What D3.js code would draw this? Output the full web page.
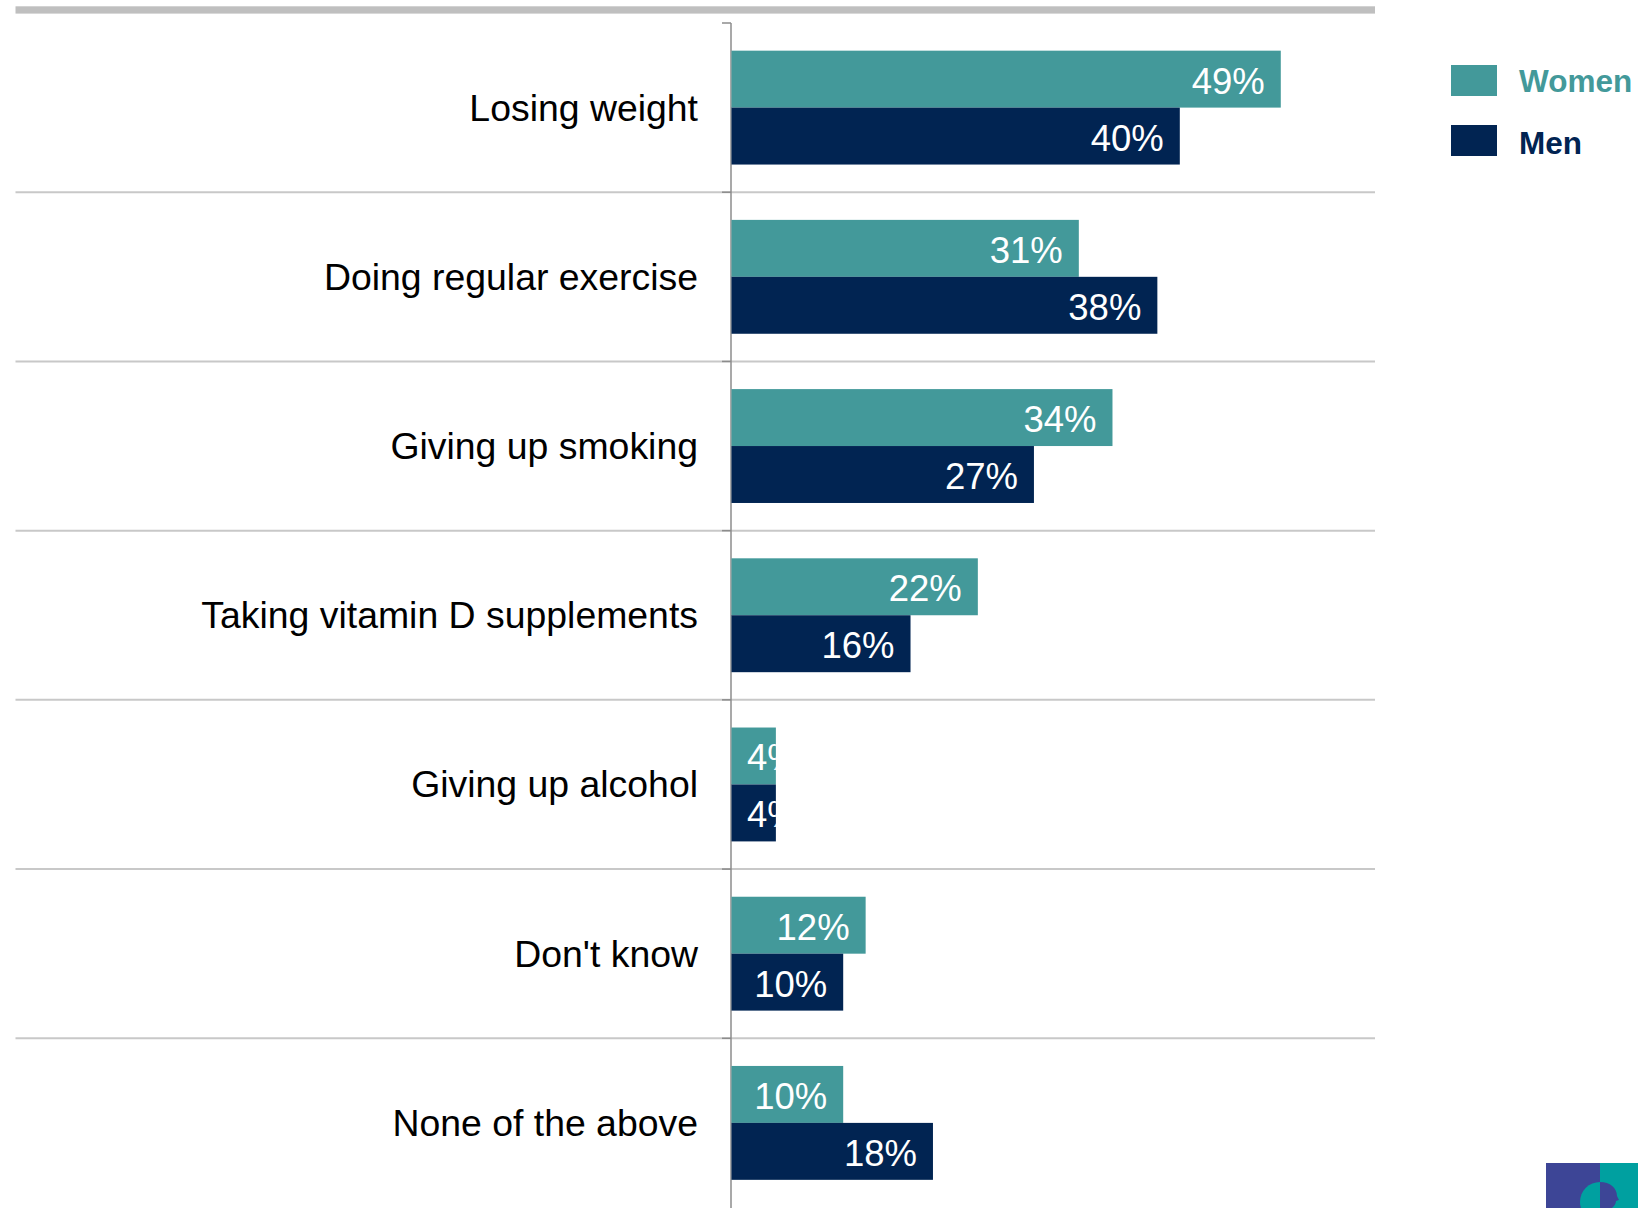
<!DOCTYPE html>
<html>
<head>
<meta charset="utf-8">
<script src="https://cdn.jsdelivr.net/npm/d3@7"></script>
<style>
  html, body { margin: 0; padding: 0; background: #ffffff; }
  svg { display: block; font-family: "Liberation Sans", Arial, sans-serif; }
</style>
</head>
<body>
<svg id="chart" width="1638" height="1208"></svg>
<script>
// Survey answers, percentage of respondents by sex
const categories = [
  "Losing weight",
  "Doing regular exercise",
  "Giving up smoking",
  "Taking vitamin D supplements",
  "Giving up alcohol",
  "Don't know",
  "None of the above"
];
const seriesNames = ["Women", "Men"];
const women = [49, 31, 34, 22, 4, 12, 10];
const men   = [40, 38, 27, 16, 4, 10, 18];

const colors = { Women: "#43999a", Men: "#012452" };

const svg = d3.select("#chart");
const W = 1638, H = 1208;

const axisX = 731;
const x = d3.scaleLinear().domain([0, 60]).range([axisX, axisX + 60 * 11.22]);
const y = d3.scaleBand().domain(categories).range([23, 1207.5])
  .paddingInner(0.327).paddingOuter(0.1635);
const ySub = d3.scaleBand().domain(seriesNames).range([0, y.bandwidth()]);
const step = y.step();
const bandTop = c => y(c) - y.paddingOuter() * step;

// thick top rule
svg.append("rect")
  .attr("x", 15.5).attr("y", 6.3).attr("width", 1375 - 15.5).attr("height", 7.3)
  .attr("fill", "#bfbfbf");

// separators between categories
const boundaries = categories.slice(1).map(c => bandTop(c));
svg.append("g").selectAll("line").data(boundaries).join("line")
  .attr("x1", 15.5).attr("x2", 1375)
  .attr("y1", d => d).attr("y2", d => d)
  .attr("stroke", "#c8c8c8").attr("stroke-width", 2);

// category axis with ticks at band edges
const edges = [bandTop(categories[0])].concat(boundaries);
const axisG = svg.append("g").attr("transform", `translate(${axisX},0)`);
axisG.append("line")
  .attr("x1", 0).attr("x2", 0).attr("y1", edges[0]).attr("y2", H)
  .attr("stroke", "#8c8c8c").attr("stroke-width", 1.5);
axisG.selectAll("line.tick").data(edges).join("line")
  .attr("class", "tick")
  .attr("x1", -9).attr("x2", 0)
  .attr("y1", d => d).attr("y2", d => d)
  .attr("stroke", "#8c8c8c").attr("stroke-width", 1.5);

// category labels
svg.append("g").selectAll("text").data(categories).join("text")
  .attr("x", 698)
  .attr("y", c => y(c) + y.bandwidth() / 2)
  .attr("text-anchor", "end")
  .attr("dominant-baseline", "central")
  .attr("font-size", 37.4)
  .attr("fill", "#000")
  .text(c => c);

// bars
const rows = [];
categories.forEach((c, i) => {
  rows.push({ cat: c, series: "Women", value: women[i], id: i * 2 });
  rows.push({ cat: c, series: "Men", value: men[i], id: i * 2 + 1 });
});

const defs = svg.append("defs");
defs.selectAll("clipPath").data(rows).join("clipPath")
  .attr("id", d => "clip" + d.id)
  .append("rect")
  .attr("x", x(0)).attr("y", d => y(d.cat) + ySub(d.series))
  .attr("width", d => x(d.value) - x(0)).attr("height", ySub.bandwidth());

const barG = svg.append("g");
barG.selectAll("rect").data(rows).join("rect")
  .attr("x", x(0) + 0.5)
  .attr("y", d => y(d.cat) + ySub(d.series))
  .attr("width", d => x(d.value) - x(0) - 0.5)
  .attr("height", ySub.bandwidth())
  .attr("fill", d => colors[d.series]);

// value labels, right-aligned inside the bar, clipped where the bar is short
const fmt = v => d3.format(".0f")(v) + "%";
const labelG = svg.append("g");
labelG.selectAll("text").data(rows).join("text")
  .attr("clip-path", d => `url(#clip${d.id})`)
  .attr("y", d => y(d.cat) + ySub(d.series) + ySub.bandwidth() / 2 + 2)
  .attr("dominant-baseline", "central")
  .attr("font-size", 36.5)
  .attr("fill", "#ffffff")
  .text(d => fmt(d.value))
  .each(function (d) {
    const w = this.getComputedTextLength();
    const xs = Math.max(x(d.value) - 16 - w, x(0) + 16);
    d3.select(this).attr("x", xs);
  });

// legend
const legend = svg.append("g");
seriesNames.forEach((s, i) => {
  const ly = 65 + i * 60;
  legend.append("rect")
    .attr("x", 1451).attr("y", ly).attr("width", 46).attr("height", 31)
    .attr("fill", colors[s]);
  legend.append("text")
    .attr("x", 1519).attr("y", ly + 16 + i * 2)
    .attr("dominant-baseline", "central")
    .attr("font-size", 31.5).attr("font-weight", "bold")
    .attr("fill", colors[s])
    .text(s);
});

// corner logo
const logo = svg.append("g");
logo.append("rect").attr("x", 1546).attr("y", 1163).attr("width", 54).attr("height", 45).attr("fill", "#3d4596");
logo.append("rect").attr("x", 1600).attr("y", 1163).attr("width", 38).attr("height", 45).attr("fill", "#00a0a0");
logo.append("path")
  .attr("d", d3.arc()({ innerRadius: 0, outerRadius: 20, startAngle: Math.PI, endAngle: 2 * Math.PI }))
  .attr("transform", "translate(1600,1202)")
  .attr("fill", "#00a0a0");
logo.append("path")
  .attr("d", "M1600,1182 C1610,1182 1617,1188 1617,1196 L1619,1200 L1616,1201 C1616,1204 1614,1206 1612,1208 L1600,1208 Z")
  .attr("fill", "#3d4596");
</script>
</body>
</html>
